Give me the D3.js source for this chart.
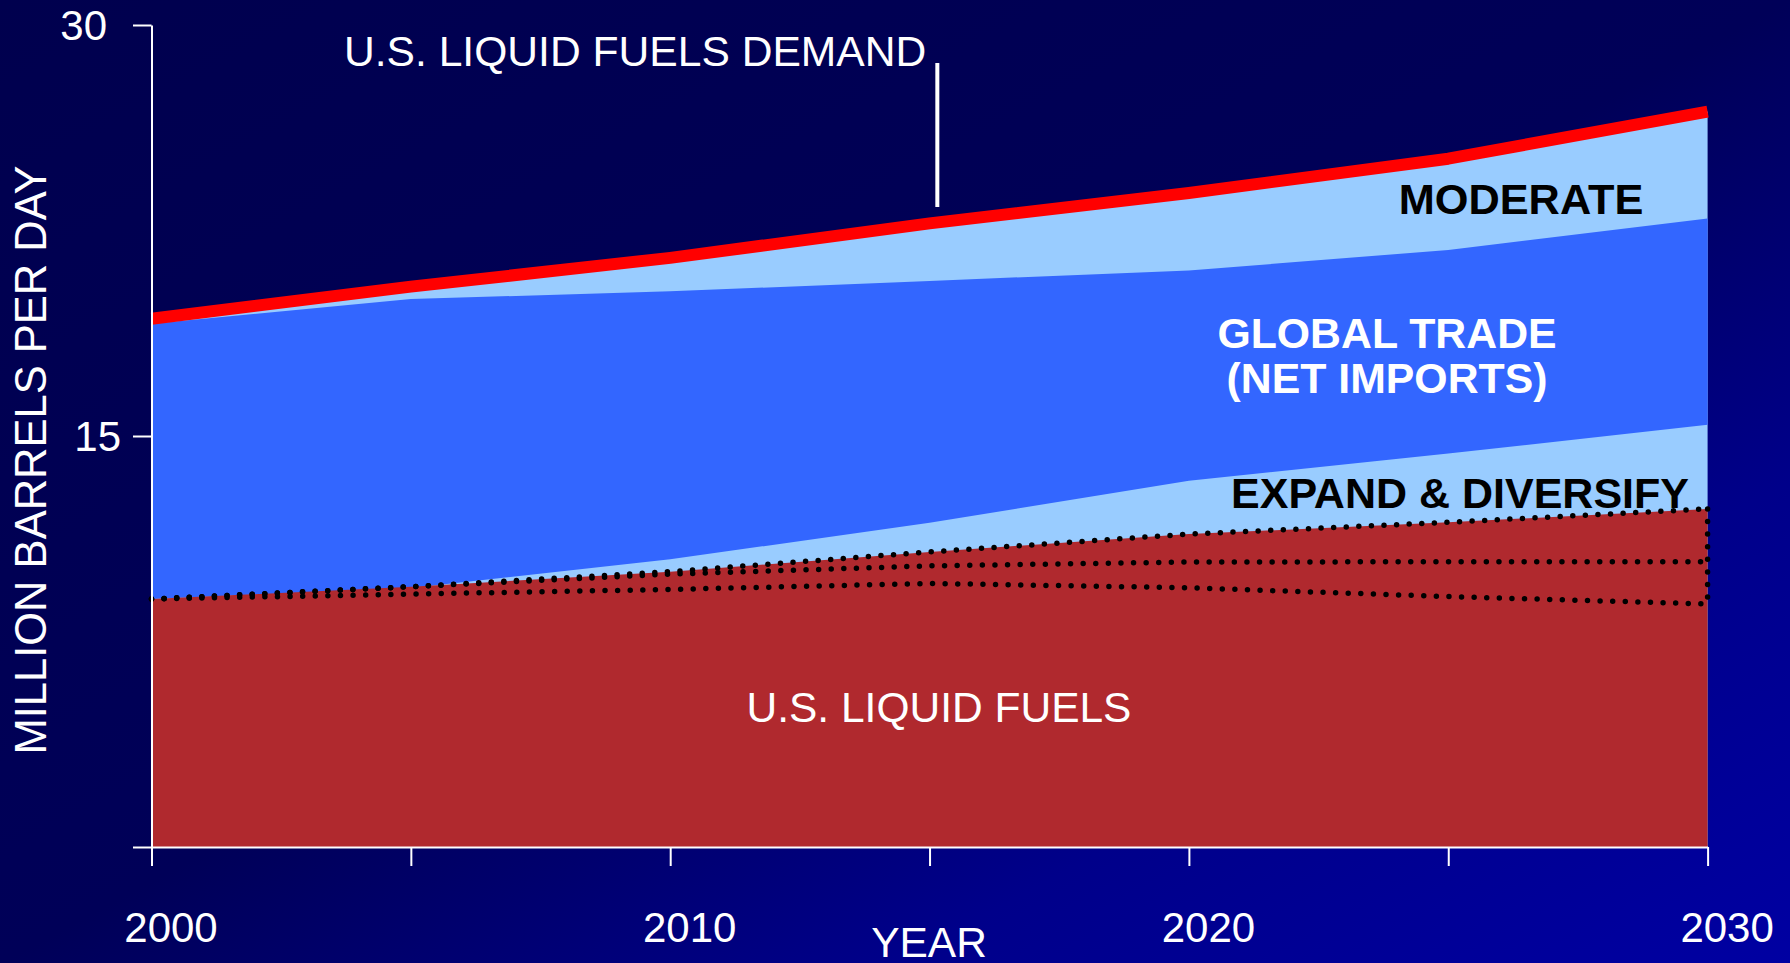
<!DOCTYPE html>
<html>
<head>
<meta charset="utf-8">
<script src="https://cdn.jsdelivr.net/npm/d3@7"></script>
<style>
  html, body { margin: 0; padding: 0; background: #000050; overflow: hidden; }
  svg { display: block; }
  text { font-family: "Liberation Sans", Arial, Helvetica, sans-serif; }
</style>
</head>
<body>
<svg id="chart" width="1790" height="963"></svg>
<script>
// ---- data (million barrels per day) ----
const years        = [2000, 2005, 2010, 2015, 2020, 2025, 2030];
const demand       = [19.28, 20.45, 21.50, 22.76, 23.87, 25.12, 26.84]; // U.S. liquid fuels demand (red line)
const globalTop    = [19.10, 20.00, 20.28, 20.66, 21.04, 21.79, 22.94]; // top of global trade band
const globalBottom = [9.05, 9.45, 10.50, 11.83, 13.37, 14.36, 15.41];   // bottom of global trade band
const usFuels      = [9.05, 9.50, 10.05, 10.77, 11.42, 11.85, 12.34];   // U.S. liquid fuels (expand & diversify)
const midCase      = [9.05, 9.50, 9.96, 10.26, 10.40, 10.41, 10.41];    // middle dotted case
const lowCase      = [9.05, 9.23, 9.40, 9.62, 9.46, 9.14, 8.87];        // lower dotted case
const yTicks       = [0, 15, 30];
const yTickLabels  = ["", "15", "30"];
const xTickLabels  = [2000, 2010, 2020, 2030];

const W = 1790, H = 963;
const svg = d3.select("#chart");

// background gradient
const defs = svg.append("defs");
const grad = defs.append("linearGradient").attr("id", "bg")
  .attr("x1", 0).attr("y1", 0).attr("x2", 1).attr("y2", 1);
grad.append("stop").attr("offset", 0).attr("stop-color", "#00004e");
grad.append("stop").attr("offset", 0.5).attr("stop-color", "#000058");
grad.append("stop").attr("offset", 0.75).attr("stop-color", "#00008a");
grad.append("stop").attr("offset", 1).attr("stop-color", "#0000a2");
svg.append("rect").attr("width", W).attr("height", H).attr("fill", "url(#bg)");

const x = d3.scaleLinear().domain([2000, 2030]).range([151.5, 1707.6]);
const y = d3.scaleLinear().domain([0, 30]).range([847, 25]);

const rows = years.map((yr, i) => ({
  yr, demand: demand[i], gt: globalTop[i], gb: globalBottom[i],
  us: usFuels[i], mid: midCase[i], low: lowCase[i]
}));

// moderate (light blue) everything up to demand
svg.append("path").datum(rows)
  .attr("fill", "#99ccff")
  .attr("d", d3.area().x(d => x(d.yr)).y0(y(0)).y1(d => y(d.demand)));

// global trade (net imports)
svg.append("path").datum(rows)
  .attr("fill", "#3366ff")
  .attr("d", d3.area().x(d => x(d.yr)).y0(d => y(d.gb)).y1(d => y(d.gt)));

// U.S. liquid fuels
svg.append("path").datum(rows)
  .attr("fill", "#b0292e")
  .attr("d", d3.area().x(d => x(d.yr)).y0(y(0)).y1(d => y(d.us)));

// demand red line
svg.append("path").datum(rows)
  .attr("fill", "none").attr("stroke", "#ff0000").attr("stroke-width", 12)
  .attr("stroke-linejoin", "round")
  .attr("d", d3.line().x(d => x(d.yr)).y(d => y(d.demand)));

// dotted scenario lines
const dotted = (acc) => d3.line().x(d => x(d.yr)).y(d => y(acc(d)));
const dotStyle = sel => sel.attr("fill", "none").attr("stroke", "#000")
  .attr("stroke-width", 5.5).attr("stroke-linecap", "round")
  .attr("stroke-dasharray", "0 12.6");
svg.append("path").datum(rows).call(dotStyle).attr("d", dotted(d => d.us));
svg.append("path").datum(rows).call(dotStyle).attr("d", dotted(d => d.mid));
svg.append("path").datum(rows).call(dotStyle).attr("d", dotted(d => d.low));
const last = rows[rows.length - 1];
svg.append("path").call(dotStyle)
  .attr("d", d3.line()([[x(last.yr), y(last.us)], [x(last.yr), y(last.low)]]));

// axes
const yAxis = svg.append("g").attr("transform", `translate(${x(2000)},0)`)
  .call(d3.axisLeft(y).tickValues(yTicks).tickSize(18.5).tickSizeOuter(0)
    .tickPadding(12).tickFormat((d, i) => yTickLabels[i]));
yAxis.selectAll("text").attr("font-size", 42).attr("fill", "#fff").attr("dy", "0.35em")
  .attr("dx", d => d === 30 ? -14 : 0)
  .style("font-family", '"Liberation Sans", Arial, sans-serif');

const xAxis = svg.append("g").attr("transform", `translate(0,${y(0)})`)
  .call(d3.axisBottom(x).tickValues(years).tickSize(19).tickSizeOuter(0)
    .tickFormat(d => xTickLabels.includes(d) ? String(d) : ""));
xAxis.selectAll("text").attr("font-size", 42).attr("fill", "#fff")
  .attr("y", 95).attr("dy", 0).attr("dx", 19)
  .style("font-family", '"Liberation Sans", Arial, sans-serif');

[yAxis, xAxis].forEach(g => {
  g.select(".domain").attr("stroke", "#fff").attr("stroke-width", 2);
  g.selectAll(".tick line").attr("stroke", "#fff").attr("stroke-width", 2);
});

// axis titles
svg.append("text").attr("transform", `translate(46,460) rotate(-90)`)
  .attr("text-anchor", "middle").attr("font-size", 43.5).attr("fill", "#fff")
  .text("MILLION BARRELS PER DAY");
svg.append("text").attr("x", 929).attr("y", 957).attr("text-anchor", "middle")
  .attr("font-size", 42.5).attr("fill", "#fff").text("YEAR");

// annotations
svg.append("text").attr("x", 344).attr("y", 66).attr("font-size", 42.6).attr("fill", "#fff")
  .text("U.S. LIQUID FUELS DEMAND");
svg.append("line")
  .attr("x1", x(2015.15)).attr("x2", x(2015.15))
  .attr("y1", y(28.61)).attr("y2", y(23.36))
  .attr("stroke", "#fff").attr("stroke-width", 4);

svg.append("text").attr("x", 1521).attr("y", 214).attr("text-anchor", "middle")
  .attr("font-size", 43.3).attr("font-weight", "bold").attr("fill", "#000").text("MODERATE");
svg.append("text").attr("x", 1387).attr("y", 348).attr("text-anchor", "middle")
  .attr("font-size", 42.8).attr("font-weight", "bold").attr("fill", "#fff").text("GLOBAL TRADE");
svg.append("text").attr("x", 1387).attr("y", 393).attr("text-anchor", "middle")
  .attr("font-size", 42.8).attr("font-weight", "bold").attr("fill", "#fff").text("(NET IMPORTS)");
svg.append("text").attr("x", 1460).attr("y", 508).attr("text-anchor", "middle")
  .attr("font-size", 43).attr("font-weight", "bold").attr("fill", "#000").text("EXPAND & DIVERSIFY");
svg.append("text").attr("x", 939).attr("y", 722).attr("text-anchor", "middle")
  .attr("font-size", 42.5).attr("fill", "#fff").text("U.S. LIQUID FUELS");
</script>
</body>
</html>
